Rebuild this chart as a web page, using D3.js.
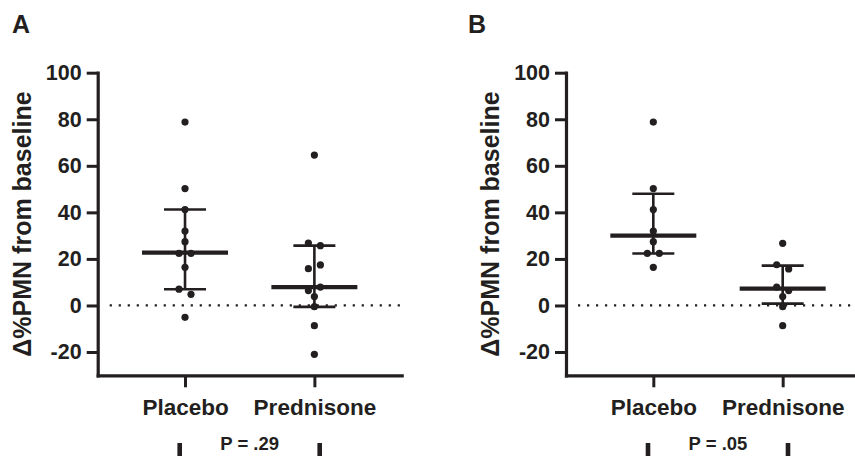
<!DOCTYPE html>
<html>
<head>
<meta charset="utf-8">
<script src="https://cdn.jsdelivr.net/npm/d3@7"></script>
<style>
  html, body { margin: 0; padding: 0; background: #fff; }
  svg text { font-family: "Liberation Sans", Arial, sans-serif; font-weight: bold; fill: #231f20; }
</style>
</head>
<body>
<div id="chart"></div>
<script>
/* categories */
const groups = ['Placebo', 'Prednisone'];
const yTicks = [-20, 0, 20, 40, 60, 80, 100];

/* panel A: individual values (order inside a row = left to right) */
const placeboA = [78.8, 50.2, 41.2, 32.0, 27.4, 22.4, 22.4, 16.4, 7.0, 4.8, -5.1];
const prednisoneA = [64.6, 26.8, 25.7, 15.8, 17.4, 6.4, 7.9, 3.8, -0.5, -8.7, -21.0];
const medianA = [22.7, 7.9];
const q1A = [7.0, -0.6];
const q3A = [41.2, 25.7];

/* panel B */
const placeboB = [78.8, 50.2, 41.2, 32.0, 27.4, 22.4, 22.4, 16.4];
const prednisoneB = [26.7, 17.5, 15.7, 7.9, 6.4, 3.8, -0.5, -8.7];
const medianB = [30.0, 7.2];
const q1B = [22.3, 0.8];
const q3B = [48.0, 17.1];

const panelLabels = ['A', 'B'];
const pLabels = ['P = .29', 'P = .05'];

const INK = '#231f20';
const width = 855, height = 456;

const svg = d3.select('#chart').append('svg')
  .attr('width', width).attr('height', height);

const y = d3.scaleLinear().domain([-30, 100]).range([375.3, 72.7]);

// 点を横にずらす (値が近い点は同じ行に並べる)
const swarm = (values, cx) => {
  let idx = values.map((v, i) => i).sort((a, b) => values[b] - values[a]);
  let rows = [];
  let row = null;
  for (let i of idx) {
    if (row && Math.abs(y(values[i]) - y(values[row[0]])) < 8) {
      row.push(i);
    } else {
      row = [i];
      rows.push(row);
    }
  }
  let out = [];
  for (let r of rows) {
    r.sort((a, b) => a - b);
    r.forEach((i, k) => {
      out.push({ x: cx + (k - (r.length - 1) / 2) * 12, v: values[i] });
    });
  }
  return out;
};

const drawPanel = (opt) => {
  const g = svg.append('g');
  const x = d3.scalePoint().domain(groups)
    .range([opt.left, opt.left + 304]).padding(0.675);

  // dotted zero line
  g.append('line')
    .attr('x1', opt.left + 12).attr('x2', opt.left + 303)
    .attr('y1', y(0)).attr('y2', y(0))
    .attr('stroke', INK).attr('stroke-width', 2.2)
    .attr('stroke-dasharray', '2.2 6.8');

  // y axis
  const ya = g.append('g')
    .attr('transform', 'translate(' + opt.left + ',0)')
    .call(d3.axisLeft(y).tickValues(yTicks).tickSize(11).tickSizeOuter(0)
      .tickPadding(5).tickFormat(d => String(d)));
  ya.select('.domain').attr('stroke', INK).attr('stroke-width', 3.2).attr('stroke-linecap', 'square');
  ya.selectAll('.tick line').attr('stroke', INK).attr('stroke-width', 3);
  ya.selectAll('.tick text').attr('font-size', 21.5).attr('fill', INK)
    .attr('font-family', '"Liberation Sans", Arial, sans-serif').attr('font-weight', 'bold');

  // x axis
  const xa = g.append('g')
    .attr('transform', 'translate(0,' + y(-30) + ')')
    .call(d3.axisBottom(x).tickSize(12).tickSizeOuter(0).tickPadding(12));
  xa.select('.domain').attr('stroke', INK).attr('stroke-width', 3.2).attr('stroke-linecap', 'square');
  xa.selectAll('.tick line').attr('stroke', INK).attr('stroke-width', 3);
  xa.selectAll('.tick text').attr('font-size', 22.5).attr('fill', INK)
    .attr('font-family', '"Liberation Sans", Arial, sans-serif').attr('font-weight', 'bold');

  // y label
  g.append('text')
    .attr('transform', 'translate(' + (opt.left - 67) + ',' + y(35) + ') rotate(-90)')
    .attr('text-anchor', 'middle')
    .attr('font-size', 25)
    .text('Δ%PMN from baseline');

  // panel letter
  g.append('text')
    .attr('x', opt.letterX).attr('y', 33)
    .attr('font-size', 25)
    .text(opt.letter);

  // median + interquartile range
  groups.forEach((grp, i) => {
    let cx = x(grp);
    g.append('line')
      .attr('x1', cx).attr('x2', cx)
      .attr('y1', y(opt.q1[i])).attr('y2', y(opt.q3[i]))
      .attr('stroke', INK).attr('stroke-width', 2.6);
    for (let q of [opt.q1[i], opt.q3[i]]) {
      g.append('line')
        .attr('x1', cx - 21).attr('x2', cx + 21)
        .attr('y1', y(q)).attr('y2', y(q))
        .attr('stroke', INK).attr('stroke-width', 2.6);
    }
    g.append('line')
      .attr('x1', cx - 43).attr('x2', cx + 43)
      .attr('y1', y(opt.median[i])).attr('y2', y(opt.median[i]))
      .attr('stroke', INK).attr('stroke-width', 4.2);

    g.selectAll(null)
      .data(swarm(opt.values[i], cx))
      .enter()
      .append('circle')
      .attr('cx', d => d.x)
      .attr('cy', d => y(d.v))
      .attr('r', 3.6)
      .attr('fill', INK);
  });

  // p value bracket
  const mid = (x(groups[0]) + x(groups[1])) / 2;
  for (let dx of [-70, 70]) {
    g.append('rect')
      .attr('x', mid + dx - 2.3).attr('y', 443)
      .attr('width', 4.6).attr('height', 20)
      .attr('fill', INK);
  }
  g.append('text')
    .attr('x', mid).attr('y', 450)
    .attr('text-anchor', 'middle')
    .attr('font-size', 18.5)
    .text(opt.p);
};

drawPanel({ left: 97.7, letter: panelLabels[0], letterX: 12, p: pLabels[0],
  values: [placeboA, prednisoneA], median: medianA, q1: q1A, q3: q3A });
drawPanel({ left: 566, letter: panelLabels[1], letterX: 468, p: pLabels[1],
  values: [placeboB, prednisoneB], median: medianB, q1: q1B, q3: q3B });
</script>
</body>
</html>
